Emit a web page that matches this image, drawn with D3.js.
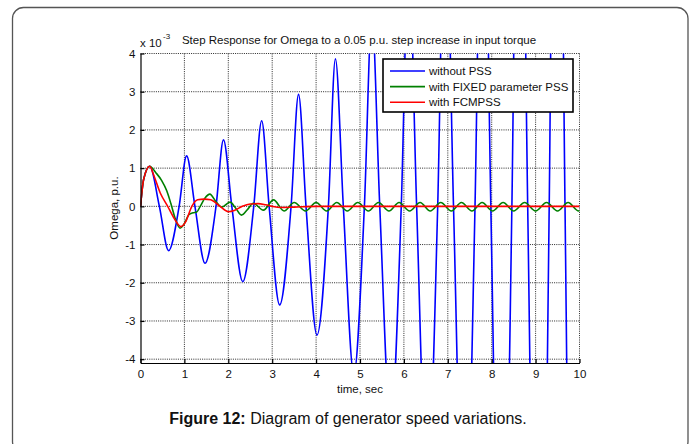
<!DOCTYPE html>
<html>
<head>
<meta charset="utf-8">
<script src="https://cdn.jsdelivr.net/npm/d3@7"></script>
<style>
    body { margin: 0; background: #fff; }
    svg { display: block; font-family: Arial, "Liberation Sans", sans-serif; }
</style>
</head>
<body>
<speed-chart></speed-chart>
<script>
// tick labels
const timeTicks = [0, 1, 2, 3, 4, 5, 6, 7, 8, 9, 10];
const omegaTicks = [-4, -3, -2, -1, 0, 1, 2, 3, 4];

const seriesNames = ['without PSS', 'with FIXED parameter PSS', 'with FCMPSS'];
const seriesColors = ['#0000ff', '#008000', '#ff0000'];

// without PSS (x 10^-3 p.u.), read off peaks / zero crossings / troughs
const noPssTime = [0, 0.07, 0.21, 0.43, 0.64, 0.88, 1.05, 1.24, 1.47, 1.72, 1.89, 2.08, 2.33, 2.58, 2.76, 2.93,
    3.17, 3.43, 3.6, 3.77, 4.02, 4.28, 4.44, 4.62, 4.86, 5.1, 5.27, 5.45, 5.7, 5.94, 6.11, 6.29, 6.53, 6.77,
    6.94, 7.13, 7.38, 7.62, 7.8, 7.98, 8.22, 8.46, 8.63, 8.82, 9.07, 9.31, 9.48, 9.67, 9.92, 10];
const noPssOmega = [0, 0.7, 1.05, 0, -1.16, 0, 1.32, 0, -1.49, 0, 1.74, 0, -1.97, 0, 2.24, 0,
    -2.58, 0, 2.93, 0, -3.37, 0, 3.86, 0, -4.4, 0, 5.0, 0, -5.75, 0, 6.6, 0, -7.5, 0,
    8.6, 0, -9.9, 0, 11.3, 0, -13, 0, 14.8, 0, -17, 0, 19.4, 0, -22, -20];

// with FIXED parameter PSS
const fixedPssTime = [0, 0.07, 0.21, 0.35, 0.48, 0.6, 0.69, 0.8, 0.9, 1.0, 1.1, 1.2, 1.28, 1.36, 1.47, 1.58,
    1.72, 1.85, 2.04, 2.17, 2.3, 2.44, 2.57, 2.8, 3.03, 3.27, 3.5, 3.76, 4.0, 4.24, 4.47, 4.71, 4.95, 5.19,
    5.42, 5.66, 5.89, 6.13, 6.37, 6.6, 6.84, 7.08, 7.31, 7.55, 7.78, 8.02, 8.26, 8.5, 8.75, 9.0, 9.25, 9.5,
    9.74, 9.98, 10];
const fixedPssOmega = [0, 0.7, 1.05, 0.88, 0.68, 0.4, 0.08, -0.35, -0.57, -0.45, -0.22, -0.17, -0.15, 0, 0.22, 0.32,
    0.12, -0.02, 0.11, -0.05, -0.23, -0.08, 0.08, -0.1, 0.17, -0.12, 0.1, -0.12, 0.1, -0.12, 0.1, -0.12, 0.1, -0.12,
    0.1, -0.12, 0.1, -0.12, 0.1, -0.12, 0.1, -0.12, 0.1, -0.12, 0.1, -0.12, 0.1, -0.12, 0.1, -0.12, 0.1, -0.12,
    0.1, -0.12, -0.11];

// with FCMPSS
const fcmpssTime = [0, 0.07, 0.21, 0.3, 0.45, 0.62, 0.77, 0.92, 1.02, 1.17, 1.3, 1.45, 1.6, 1.81, 2.0, 2.15,
    2.32, 2.5, 2.68, 2.85, 3.0, 3.2, 3.5, 4.0, 10];
const fcmpssOmega = [0, 0.7, 1.05, 0.82, 0.35, 0, -0.32, -0.53, -0.42, 0, 0.17, 0.19, 0.17, 0, -0.14, -0.1,
    0, 0.06, 0.07, 0.04, 0, -0.03, -0.02, 0, 0];

const seriesData = [
    { time: noPssTime, omega: noPssOmega },
    { time: fixedPssTime, omega: fixedPssOmega },
    { time: fcmpssTime, omega: fcmpssOmega }
];

class SpeedChart extends HTMLElement {
    constructor() {
        super();

        this.width = 697;
        this.height = 444;
        this.left = 140.5;
        this.right = 579.5;
        this.top = 53.5;
        this.bottom = 363;

        this.svg = d3.select(this)
            .append('svg')
            .attr('width', this.width)
            .attr('height', this.height);
    }
    //----------------------------------------------------------------------------
    connectedCallback() {
        this.series = seriesData.map((s, i) => ({
            name: seriesNames[i],
            color: seriesColors[i],
            points: s.time.map((t, j) => ({ t, w: s.omega[j] }))
        }));

        this.#scaling();
        this.#drawFrame();
        this.#drawGrid();
        this.#drawLines();
        this.#drawAxis();
        this.#drawLegend();
        this.#drawText();
    }
    //----------------------------------------------------------------------------
    #scaling() {
        this.xScale = d3.scaleLinear()
            .domain([0, 10])
            .range([this.left, this.right]);

        this.yScale = d3.scaleLinear()
            .domain([-4.1, 4])
            .range([this.bottom, this.top]);
    }
    //----------------------------------------------------------------------------
    #drawFrame() {
        this.svg.append('rect')
            .attr('x', 12.5)
            .attr('y', 7.5)
            .attr('width', 675.5)
            .attr('height', 445)
            .attr('rx', 11)
            .attr('fill', 'none')
            .attr('stroke', '#555')
            .attr('stroke-width', 1.3);
    }
    //----------------------------------------------------------------------------
    #drawGrid() {
        const grid = this.svg.append('g')
            .attr('stroke', '#111')
            .attr('stroke-width', 0.9)
            .attr('stroke-dasharray', '1,1.2');

        grid.selectAll('.vx')
            .data(timeTicks.slice(1))
            .join('line')
            .attr('x1', d => this.xScale(d))
            .attr('x2', d => this.xScale(d))
            .attr('y1', this.top)
            .attr('y2', this.bottom);

        grid.selectAll('.hy')
            .data(omegaTicks)
            .join('line')
            .attr('x1', this.left)
            .attr('x2', this.right)
            .attr('y1', d => this.yScale(d))
            .attr('y2', d => this.yScale(d));
    }
    //----------------------------------------------------------------------------
    #drawLines() {
        this.svg.append('clipPath')
            .attr('id', 'plot-clip')
            .append('rect')
            .attr('x', this.left)
            .attr('y', this.top)
            .attr('width', this.right - this.left)
            .attr('height', this.bottom - this.top);

        const line = d3.line()
            .x(d => this.xScale(d.t))
            .y(d => this.yScale(d.w))
            .curve(d3.curveMonotoneX);

        this.svg.append('g')
            .attr('clip-path', 'url(#plot-clip)')
            .selectAll('path')
            .data(this.series)
            .join('path')
            .attr('fill', 'none')
            .attr('stroke', d => d.color)
            .attr('stroke-width', 1.6)
            .attr('d', d => line(d.points));
    }
    //----------------------------------------------------------------------------
    #drawAxis() {
        // plain hyphen minus, like the original
        const fmt = d => String(d);

        const yAxis = d3.axisLeft(this.yScale)
            .tickValues(omegaTicks)
            .tickFormat(fmt)
            .tickSizeInner(-4)
            .tickSizeOuter(0)
            .tickPadding(5);

        const yg = this.svg.append('g')
            .attr('transform', `translate(${this.left}, 0)`)
            .call(yAxis);

        const xAxis = d3.axisBottom(this.xScale)
            .tickValues(timeTicks)
            .tickFormat(fmt)
            .tickSizeInner(-4)
            .tickSizeOuter(0)
            .tickPadding(7);

        const xg = this.svg.append('g')
            .attr('transform', `translate(0, ${this.bottom})`)
            .call(xAxis);

        [yg, xg].forEach(g => {
            g.attr('font-family', null).attr('font-size', 11.5);
            g.selectAll('path, line').attr('stroke', '#000').attr('stroke-width', 1.2);
            g.selectAll('text').attr('fill', '#111');
        });
    }
    //----------------------------------------------------------------------------
    #drawLegend() {
        const lx = 383, ly = 59, lw = 190, lh = 53;

        const legend = this.svg.append('g');

        legend.append('rect')
            .attr('x', lx)
            .attr('y', ly)
            .attr('width', lw)
            .attr('height', lh)
            .attr('fill', '#fff')
            .attr('stroke', '#000')
            .attr('stroke-width', 1.6);

        const rows = legend.selectAll('.row')
            .data(this.series)
            .join('g')
            .attr('transform', (d, i) => `translate(${lx}, ${ly + 12 + i * 15.6})`);

        rows.append('line')
            .attr('x1', 7)
            .attr('x2', 42)
            .attr('stroke', d => d.color)
            .attr('stroke-width', 1.6);

        rows.append('text')
            .attr('x', 46)
            .attr('dy', '0.35em')
            .attr('font-size', 11.5)
            .attr('fill', '#111')
            .text(d => d.name);
    }
    //----------------------------------------------------------------------------
    #drawText() {
        this.svg.append('text')
            .attr('x', 359)
            .attr('y', 44)
            .attr('text-anchor', 'middle')
            .attr('font-size', 11.5)
            .attr('fill', '#111')
            .text('Step Response for Omega to a 0.05 p.u. step increase in input torque');

        this.svg.append('text')
            .attr('x', 140)
            .attr('y', 47)
            .attr('font-size', 11.5)
            .attr('fill', '#111')
            .text('x 10');

        this.svg.append('text')
            .attr('x', 163)
            .attr('y', 39)
            .attr('font-size', 8)
            .attr('fill', '#111')
            .text('-3');

        this.svg.append('text')
            .attr('transform', 'translate(118, 208) rotate(-90)')
            .attr('text-anchor', 'middle')
            .attr('font-size', 11.5)
            .attr('fill', '#111')
            .text('Omega, p.u.');

        this.svg.append('text')
            .attr('x', 360)
            .attr('y', 393)
            .attr('text-anchor', 'middle')
            .attr('font-size', 11.5)
            .attr('fill', '#111')
            .text('time, sec');

        const caption = this.svg.append('text')
            .attr('x', 348)
            .attr('y', 424)
            .attr('text-anchor', 'middle')
            .attr('font-size', 16)
            .attr('fill', '#111');

        caption.append('tspan')
            .attr('font-weight', 'bold')
            .text('Figure 12:');

        caption.append('tspan')
            .text(' Diagram of generator speed variations.');
    }
    //----------------------------------------------------------------------------
    static define(tag = 'speed-chart') {
        customElements.define(tag, this);
    }
}

SpeedChart.define();
</script>
</body>
</html>
